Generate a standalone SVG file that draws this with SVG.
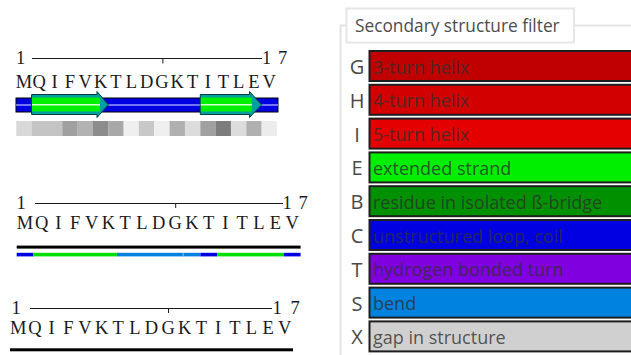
<svg xmlns="http://www.w3.org/2000/svg" width="631" height="355" viewBox="0 0 631 355">
<style>
.seq{font-family:"Liberation Serif","DejaVu Serif",serif;font-size:18.5px;fill:#1a1a1a;text-anchor:middle}
.num{font-family:"Liberation Serif","DejaVu Serif",serif;font-size:18.5px;fill:#1a1a1a;text-anchor:middle}
.ax{stroke:#1a1a1a;stroke-width:1;fill:none}
.code{font-family:"Open Sans","DejaVu Sans",sans-serif;font-size:20px;fill:#4a4a4a;text-anchor:middle}
.lbl{font-family:"Open Sans","DejaVu Sans",sans-serif;font-size:18px;fill:#303030;fill-opacity:0.8}
.box{stroke:#1e1e1e;stroke-width:2}
.arrow{fill:#00a0a0;stroke:#003c3c;stroke-width:1}
</style>
<rect width="631" height="355" fill="#fff"/>

<!-- Panel 1 -->
<g id="panel1">
  <text class="num" x="20.5" y="63.5">1</text>
  <line class="ax" x1="32" y1="58.5" x2="262" y2="58.5"/>
  <line class="ax" x1="162.9" y1="58.5" x2="162.9" y2="63.5"/>
  <text class="num" x="266.5,282.5" y="63.5">17</text>
  <text class="seq" x="24.0,39.3,54.6,70.0,85.3,100.6,116.0,131.3,146.6,162.0,177.3,192.6,207.9,223.3,238.6,253.9,269.3" y="88">MQIFVKTLDGKTITLEV</text>
  <rect x="16" y="98" width="262" height="14" fill="#0000e0" stroke="#000" stroke-width="1"/>
  <line x1="16" y1="105" x2="278" y2="105" stroke="#9b9bff" stroke-width="1.5"/>
  <g id="strand1">
    <path class="arrow" d="M31.6,94.5 H97 V91.5 L108.3,104.8 L97,117.5 V114.5 H31.6 Z"/>
    <rect x="32" y="97.5" width="68" height="14" fill="#00f000"/>
    <line x1="32" y1="104.8" x2="100" y2="104.8" stroke="#d8ffd8" stroke-width="1.5"/>
  </g>
  <g id="strand2">
    <path class="arrow" d="M200.3,94.5 H249.5 V91.5 L261.6,104.8 L249.5,117.5 V114.5 H200.3 Z"/>
    <rect x="200.8" y="97.5" width="51" height="14" fill="#00f000"/>
    <line x1="200.8" y1="104.8" x2="251.8" y2="104.8" stroke="#d8ffd8" stroke-width="1.5"/>
  </g>
  <g id="shades">
    <rect x="16.3" y="121" width="15.4" height="15" fill="#d8d8d8"/>
    <rect x="31.6" y="121" width="15.4" height="15" fill="#c4c4c4"/>
    <rect x="47.0" y="121" width="15.4" height="15" fill="#c4c4c4"/>
    <rect x="62.3" y="121" width="15.4" height="15" fill="#a0a0a0"/>
    <rect x="77.6" y="121" width="15.4" height="15" fill="#b2b2b2"/>
    <rect x="93.0" y="121" width="15.4" height="15" fill="#8c8c8c"/>
    <rect x="108.3" y="121" width="15.4" height="15" fill="#a8a8a8"/>
    <rect x="123.6" y="121" width="15.4" height="15" fill="#efefef"/>
    <rect x="138.9" y="121" width="15.4" height="15" fill="#c8c8c8"/>
    <rect x="154.3" y="121" width="15.4" height="15" fill="#efefef"/>
    <rect x="169.6" y="121" width="15.4" height="15" fill="#b0b0b0"/>
    <rect x="184.9" y="121" width="15.4" height="15" fill="#dcdcdc"/>
    <rect x="200.3" y="121" width="15.4" height="15" fill="#a0a0a0"/>
    <rect x="215.6" y="121" width="15.4" height="15" fill="#7c7c7c"/>
    <rect x="230.9" y="121" width="15.4" height="15" fill="#dcdcdc"/>
    <rect x="246.3" y="121" width="15.4" height="15" fill="#b0b0b0"/>
    <rect x="261.6" y="121" width="15.3" height="15" fill="#ececec"/>
  </g>
</g>

<!-- Panel 2 -->
<g id="panel2">
  <text class="num" x="21" y="209">1</text>
  <line class="ax" x1="35" y1="203.5" x2="283" y2="203.5"/>
  <line class="ax" x1="175.7" y1="203.5" x2="175.7" y2="208"/>
  <text class="num" x="287,303" y="209">17</text>
  <text class="seq" x="25.0,41.7,58.4,75.1,91.8,108.5,125.2,141.9,158.6,175.3,192.0,208.7,225.4,242.1,258.8,275.5,292.2" y="228.5">MQIFVKTLDGKTITLEV</text>
  <rect x="16.7" y="245.6" width="283.9" height="3" fill="#000"/>
  <rect x="16.7" y="252.8" width="16.7" height="3.6" fill="#0000e0"/>
  <rect x="33.4" y="252.8" width="83.5" height="3.6" fill="#00e000"/>
  <rect x="116.9" y="252.8" width="66.8" height="3.6" fill="#0080e0"/>
  <rect x="182.7" y="252.8" width="1" height="3.6" fill="#c8c8a0"/>
  <rect x="183.7" y="252.8" width="16.7" height="3.6" fill="#0080e0"/>
  <rect x="200.4" y="252.8" width="16.7" height="3.6" fill="#0000e0"/>
  <rect x="217.1" y="252.8" width="66.8" height="3.6" fill="#00e000"/>
  <rect x="283.9" y="252.8" width="16.7" height="3.6" fill="#0000e0"/>
</g>

<!-- Panel 3 -->
<g id="panel3">
  <text class="num" x="16" y="313.5">1</text>
  <line class="ax" x1="30" y1="308.5" x2="272" y2="308.5"/>
  <line class="ax" x1="168.5" y1="308.5" x2="168.5" y2="313"/>
  <text class="num" x="277,295" y="313.5">17</text>
  <text class="seq" x="18.3,35.0,51.6,68.3,84.9,101.6,118.2,134.9,151.5,168.2,184.8,201.5,218.1,234.8,251.4,268.1,284.7" y="333.5">MQIFVKTLDGKTITLEV</text>
  <rect x="10" y="348.3" width="283" height="3" fill="#000"/>
</g>

<!-- Legend panel -->
<g id="filter">
  <path d="M346,25.5 H340.5 V355 M574,25.5 H631" fill="none" stroke="#e2e2e2" stroke-width="2"/>
  <rect x="346.5" y="8.5" width="227.5" height="34" fill="#fff" stroke="#e6e6e6" stroke-width="2"/>
  <text x="355" y="32" font-family="'Open Sans','DejaVu Sans',sans-serif" font-size="17.3" fill="#4d4d4d">Secondary structure filter</text>
</g>
<g id="row-G"><rect class="box" x="369.5" y="51" width="270" height="30" fill="#c00000"/><text class="code" x="357" y="74">G</text><text class="lbl" x="373" y="73.5">3-turn helix</text></g>
<g id="row-H"><rect class="box" x="369.5" y="84.8" width="270" height="30" fill="#d20000"/><text class="code" x="357" y="107.8">H</text><text class="lbl" x="373" y="107.3">4-turn helix</text></g>
<g id="row-I"><rect class="box" x="369.5" y="118.6" width="270" height="30" fill="#e40000"/><text class="code" x="357" y="141.6">I</text><text class="lbl" x="373" y="141.1">5-turn helix</text></g>
<g id="row-E"><rect class="box" x="369.5" y="152.4" width="270" height="30" fill="#00ee00"/><text class="code" x="357" y="175.4">E</text><text class="lbl" x="373" y="174.9">extended strand</text></g>
<g id="row-B"><rect class="box" x="369.5" y="186.2" width="270" height="30" fill="#009000"/><text class="code" x="357" y="209.2">B</text><text class="lbl" x="373" y="208.7">residue in isolated ß-bridge</text></g>
<g id="row-C"><rect class="box" x="369.5" y="220" width="270" height="30" fill="#0000e0"/><text class="code" x="357" y="243">C</text><text class="lbl" x="373" y="242.5">unstructured loop, coil</text></g>
<g id="row-T"><rect class="box" x="369.5" y="253.8" width="270" height="30" fill="#8000e0"/><text class="code" x="357" y="276.8">T</text><text class="lbl" x="373" y="276.3">hydrogen bonded turn</text></g>
<g id="row-S"><rect class="box" x="369.5" y="287.6" width="270" height="30" fill="#0082e0"/><text class="code" x="357" y="310.6">S</text><text class="lbl" x="373" y="310.1">bend</text></g>
<g id="row-X"><rect class="box" x="369.5" y="321.4" width="270" height="30" fill="#d0d0d0"/><text class="code" x="357" y="344.4">X</text><text class="lbl" x="373" y="343.9">gap in structure</text></g>
</svg>
